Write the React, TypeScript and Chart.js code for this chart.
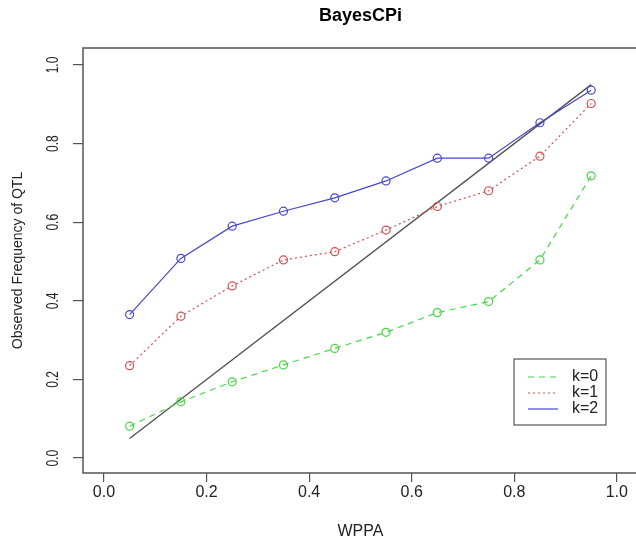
import React, { useEffect, useRef } from 'react';
import { Chart, registerables } from 'chart.js';

Chart.register(...registerables);
Chart.defaults.font.family = '"Liberation Sans", Arial, Helvetica, sans-serif';

const wppa = [0.05, 0.15, 0.25, 0.35, 0.45, 0.55, 0.65, 0.75, 0.85, 0.95];
const k0 = [0.081, 0.143, 0.194, 0.237, 0.279, 0.32, 0.37, 0.398, 0.504, 0.718];
const k1 = [0.235, 0.361, 0.438, 0.504, 0.525, 0.58, 0.64, 0.68, 0.768, 0.902];
const k2 = [0.365, 0.508, 0.59, 0.628, 0.662, 0.705, 0.763, 0.763, 0.853, 0.936];
const diagonal = [0.05, 0.95];
const tickValues = [0, 0.2, 0.4, 0.6, 0.8, 1.0];
const seriesLabels = ['k=0', 'k=1', 'k=2'];
const seriesColors = ['#3fdc3f', '#e04a4a', '#4545d8'];
const seriesDashes = [[6, 5], [2, 3], []];
const mainTitle = 'BayesCPi';
const xTitle = 'WPPA';
const yTitle = 'Observed Frequency of QTL';

const boxPlugin = {
  id: 'rbox',
  afterDraw(chart: any) {
    const { ctx, chartArea } = chart;
    ctx.save();
    ctx.strokeStyle = '#555';
    ctx.lineWidth = 1.5;
    ctx.strokeRect(chartArea.left, chartArea.top, chartArea.right - chartArea.left, chartArea.bottom - chartArea.top);
    ctx.restore();
  },
};

const textPlugin = {
  id: 'rtext',
  afterDraw(chart: any) {
    const s = chart.scales.y;
    const xs = chart.scales.x;
    const ctx = chart.ctx;
    const cx = xs.getPixelForValue(0.5);
    ctx.save();
    ctx.textAlign = 'center';
    ctx.textBaseline = 'middle';
    ctx.fillStyle = '#000';
    ctx.font = 'bold 18px "Liberation Sans", Arial, sans-serif';
    ctx.fillText(mainTitle, cx, 16);
    ctx.fillStyle = '#222';
    ctx.font = '16px "Liberation Sans", Arial, sans-serif';
    ctx.fillText(xTitle, cx, 532);
    s.ticks.forEach((t: any) => {
      const y = s.getPixelForValue(t.value);
      ctx.save();
      ctx.translate(s.right - 29, y);
      ctx.rotate(-Math.PI / 2);
      ctx.scale(0.75, 1);
      ctx.fillText(Number(t.value).toFixed(1), 0, 0);
      ctx.restore();
    });
    ctx.restore();
  },
};

const legendPlugin = {
  id: 'rlegend',
  afterDraw(chart: any) {
    const { ctx, chartArea } = chart;
    const left = chartArea.left + 431;
    const top = chartArea.bottom - 114;
    const w = 92;
    const h = 66;
    ctx.save();
    ctx.fillStyle = '#fff';
    ctx.fillRect(left, top, w, h);
    ctx.strokeStyle = '#555';
    ctx.lineWidth = 1.2;
    ctx.strokeRect(left, top, w, h);
    ctx.font = '16px "Liberation Sans", Arial, sans-serif';
    ctx.textAlign = 'left';
    ctx.textBaseline = 'middle';
    seriesLabels.forEach((lab, i) => {
      const y = top + 18 + i * 16;
      ctx.strokeStyle = seriesColors[i];
      ctx.lineWidth = 1.2;
      ctx.setLineDash(seriesDashes[i]);
      ctx.beginPath();
      ctx.moveTo(left + 14, y);
      ctx.lineTo(left + 44, y);
      ctx.stroke();
      ctx.setLineDash([]);
      ctx.fillStyle = '#222';
      ctx.fillText(lab, left + 58, y);
    });
    ctx.restore();
  },
};

export default function App() {
  const ref = useRef<HTMLCanvasElement>(null);
  useEffect(() => {
    document.body.style.margin = '0';
    const series = [k0, k1, k2];
    const datasets: any[] = series.map((vals, i) => ({
      label: seriesLabels[i],
      data: wppa.map((x, j) => ({ x, y: vals[j] })),
      showLine: true,
      borderColor: seriesColors[i],
      backgroundColor: 'transparent',
      borderWidth: 1.2,
      borderDash: seriesDashes[i],
      pointRadius: 4,
      pointBorderWidth: 1.2,
      pointBorderColor: seriesColors[i],
      pointBackgroundColor: 'transparent',
      order: 2 - i,
    }));
    datasets.push({
      label: 'diag',
      data: diagonal.map((v) => ({ x: v, y: v })),
      showLine: true,
      borderColor: '#505050',
      borderWidth: 1.3,
      pointRadius: 0,
      order: 5,
    });
    const chart = new Chart(ref.current!, {
      type: 'scatter',
      data: { datasets },
      plugins: [boxPlugin, textPlugin, legendPlugin],
      options: {
        animation: false,
        responsive: false,
        layout: { padding: { top: 48, left: 0, right: 0, bottom: 0 } },
        plugins: {
          legend: { display: false },
          tooltip: { enabled: false },
          title: { display: false },
        },
        scales: {
          x: {
            type: 'linear',
            min: -0.0409,
            max: 1.074,
            afterBuildTicks: (s: any) => {
              s.ticks = tickValues.map((v) => ({ value: v }));
            },
            afterFit: (s: any) => {
              s.height = 67;
              s.paddingLeft = 0;
              s.paddingRight = 0;
            },
            ticks: {
              font: { size: 16 },
              color: '#222',
              padding: 1,
              maxRotation: 0,
              callback: (v: any) => Number(v).toFixed(1),
            },
            grid: { drawOnChartArea: false, drawTicks: true, tickLength: 9, color: '#555', lineWidth: 1.2 },
            border: { display: false },
            title: { display: false },
          },
          y: {
            type: 'linear',
            min: -0.038,
            max: 1.0432,
            afterBuildTicks: (s: any) => {
              s.ticks = tickValues.map((v) => ({ value: v }));
            },
            afterFit: (s: any) => {
              s.width = 83;
              s.paddingTop = 0;
              s.paddingBottom = 0;
            },
            ticks: { display: false },
            grid: { drawOnChartArea: false, drawTicks: true, tickLength: 10, color: '#555', lineWidth: 1.2 },
            border: { display: false },
            title: {
              display: true,
              text: yTitle,
              color: '#222',
              font: { size: 14, lineHeight: 1 },
              padding: { top: 11, bottom: 0 },
            },
          },
        },
      } as any,
    });
    return () => chart.destroy();
  }, []);
  return (
    <div style={{ position: 'fixed', left: 0, top: 0, width: 636, height: 540, overflow: 'hidden', background: '#fff' }}>
      <canvas ref={ref} width={660} height={540} style={{ display: 'block' }} />
    </div>
  );
}
